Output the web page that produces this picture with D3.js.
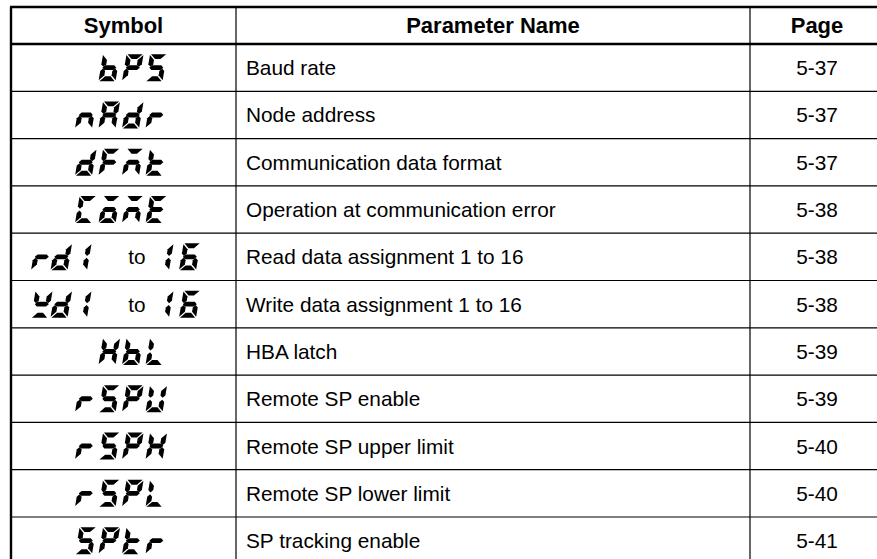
<!DOCTYPE html>
<html><head><meta charset="utf-8">
<script src="https://cdn.jsdelivr.net/npm/d3@7"></script>
<style>body{margin:0;background:#fff;overflow:hidden}</style>
</head><body><svg id="c" width="877" height="559"></svg>
<script>
const headers = ["Symbol", "Parameter Name", "Page"];
const symbolGlyphs = ["bPS", "nAdr", "dFñt", "CōñE", "rd1", "Чd1", "HbL", "rSPU", "rSPH", "rSPL", "SPtr"];
const symbolRangeEnd = ["", "", "", "", "16", "16", "", "", "", "", ""];
const parameterNames = ["Baud rate", "Node address", "Communication data format", "Operation at communication error",
  "Read data assignment 1 to 16", "Write data assignment 1 to 16", "HBA latch", "Remote SP enable",
  "Remote SP upper limit", "Remote SP lower limit", "SP tracking enable"];
const pages = ["5-37", "5-37", "5-37", "5-38", "5-38", "5-38", "5-39", "5-39", "5-40", "5-40", "5-41"];
const segmentMap = {b:"cdefg", P:"abefg", S:"acdfg", n:"ceg", A:"abcefg", d:"bcdeg", r:"eg", F:"aefg",
  "ñ":"aceg", t:"defg", C:"adef", "ō":"acdeg", E:"adefg", "1":"bc", "6":"acdefg", "Ч":"bdfg",
  H:"bcefg", L:"def", U:"bcdef"};

const svg = d3.select("#c");
const colEdges = [11, 236, 750, 884];
const headTop = 7, headBottom = 44, rowH = 47.3;
const FONT = "Liberation Sans, Arial, Helvetica, sans-serif";
const y = d3.scaleBand().domain(d3.range(parameterNames.length)).range([headBottom, headBottom + rowH * parameterNames.length]);

// glyph geometry
const GW = 17, GH = 27, T = 4.9, G = 0.9, K = 0.17, h = GH / 2;
const segs = {
  a: [[G,0],[GW-G,0],[GW-G-T,T],[G+T,T]],
  d: [[G,GH],[GW-G,GH],[GW-G-T,GH-T],[G+T,GH-T]],
  g: [[G+0.6,h],[G+0.6+T/2,h-T/2],[GW-G-0.6-T/2,h-T/2],[GW-G-0.6,h],[GW-G-0.6-T/2,h+T/2],[G+0.6+T/2,h+T/2]],
  f: [[0,G],[T,G+T],[T,h-G-T/2],[T/2,h-G],[0,h-G-T/2]],
  b: [[GW,G],[GW-T,G+T],[GW-T,h-G-T/2],[GW-T/2,h-G],[GW,h-G-T/2]],
  e: [[0,GH-G],[T,GH-G-T],[T,h+G+T/2],[T/2,h+G],[0,h+G+T/2]],
  c: [[GW,GH-G],[GW-T,GH-G-T],[GW-T,h+G+T/2],[GW-T/2,h+G],[GW,h+G+T/2]]
};
function segPath(s) {
  return "M" + segs[s].map(p => [(p[0] + (GH - p[1]) * K).toFixed(2), p[1]].join(",")).join("L") + "Z";
}
function drawGlyphs(g, str, x0, cy, pitch) {
  Array.from(str).forEach((ch, i) => {
    const on = segmentMap[ch] || "";
    const cell = g.append("g").attr("transform", `translate(${x0 + i * pitch},${cy - GH / 2})`);
    cell.selectAll("path").data(on.split("")).join("path").attr("d", segPath).attr("fill", "#000");
  });
}

// header text
svg.selectAll("text.head").data(headers).join("text").attr("class", "head")
  .attr("x", (d, i) => i === 2 ? 817 : (colEdges[i] + colEdges[i + 1]) / 2).attr("y", (headTop + headBottom) / 2)
  .attr("dy", "0.36em").attr("text-anchor", "middle")
  .style("font-family", FONT).style("font-weight", "bold").style("font-size", "22px")
  .text(d => d);

// rows
const rows = svg.selectAll("g.row").data(parameterNames).join("g").attr("class", "row")
  .attr("transform", (d, i) => `translate(0,${y(i) + y.bandwidth() / 2})`);
rows.append("text").attr("x", colEdges[1] + 10).attr("dy", "0.36em")
  .style("font-family", FONT).style("font-size", "20.8px").text(d => d);
rows.append("text").attr("x", 817).attr("dy", "0.36em").attr("text-anchor", "middle")
  .style("font-family", FONT).style("font-size", "20.8px").text((d, i) => pages[i]);

rows.each(function(d, i) {
  const g = d3.select(this);
  const sym = symbolGlyphs[i], end = symbolRangeEnd[i];
  if (end) {
    drawGlyphs(g, sym, 31, 0, 19.5);
    g.append("text").attr("x", 137).attr("dy", "0.36em").attr("text-anchor", "middle")
      .style("font-family", FONT).style("font-size", "20.8px").text("to");
    drawGlyphs(g, end, 152, 0, 27);
  } else {
    const n = Array.from(sym).length;
    drawGlyphs(g, sym, 75 + (4 - n) * 23.5, 0, 23.5);
  }
});

// grid lines
const lineYs = d3.range(1, parameterNames.length + 1).map(i => headBottom + i * rowH);
svg.selectAll("line.h").data(lineYs).join("line").attr("class", "h")
  .attr("x1", colEdges[0]).attr("x2", colEdges[3]).attr("y1", d => d).attr("y2", d => d)
  .attr("stroke", "#000").attr("stroke-width", 1.2);
svg.selectAll("line.hb").data([headTop, headBottom]).join("line").attr("class", "hb")
  .attr("x1", colEdges[0] - 1).attr("x2", colEdges[3]).attr("y1", d => d).attr("y2", d => d)
  .attr("stroke", "#000").attr("stroke-width", 2.4);
svg.selectAll("line.v").data(colEdges).join("line").attr("class", "v")
  .attr("x1", d => d).attr("x2", d => d).attr("y1", headTop).attr("y2", headBottom + rowH * parameterNames.length)
  .attr("stroke", "#000").attr("stroke-width", (d, i) => (i === 0 || i === 3) ? 2.4 : 1.2);
</script></body></html>
